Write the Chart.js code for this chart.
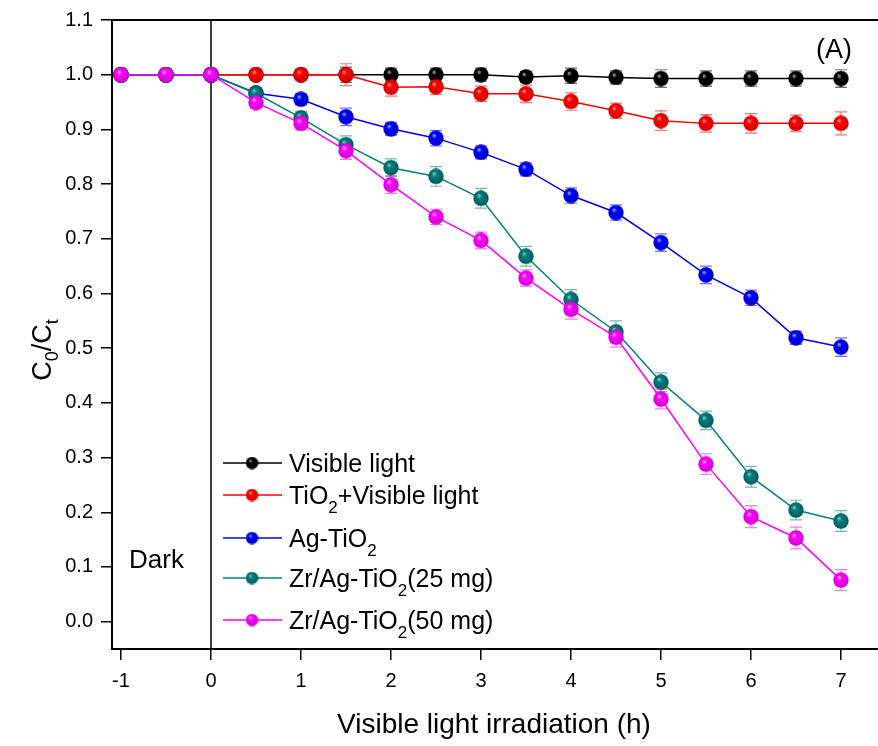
<!DOCTYPE html>
<html>
<head>
<meta charset="utf-8">
<script src="https://cdn.jsdelivr.net/npm/chart.js@4.4.1/dist/chart.umd.min.js"></script>
<style>
  html, body { margin: 0; padding: 0; background: #fff; overflow: hidden; }
  #wrap { width: 878px; height: 746px; overflow: hidden; }
</style>
</head>
<body>
<div id="wrap"><canvas id="chart-decay" width="900" height="746"></canvas></div>
<script>
// Tempo de irradiação (h) e valores de C0/Ct
const hours = [-1, -0.5, 0, 0.5, 1, 1.5, 2, 2.5, 3, 3.5, 4, 4.5, 5, 5.5, 6, 6.5, 7];
const xTicks = [-1, 0, 1, 2, 3, 4, 5, 6, 7];
const yTicks = [0, 0.1, 0.2, 0.3, 0.4, 0.5, 0.6, 0.7, 0.8, 0.9, 1.0, 1.1];

const seriesNames = [
  "Visible light",
  "TiO_2+Visible light",
  "Ag-TiO_2",
  "Zr/Ag-TiO_2(25 mg)",
  "Zr/Ag-TiO_2(50 mg)",
];

const visibleLight = [1, 1, 1, 1.0, 1.0, 1.0, 1.0, 1.0, 1.0, 0.996, 0.998, 0.995, 0.993, 0.993, 0.993, 0.993, 0.993];
const tio2Visible = [1, 1, 1, 1.0, 1.0, 1.0, 0.977, 0.978, 0.965, 0.965, 0.951, 0.934, 0.916, 0.911, 0.911, 0.911, 0.911];
const agTio2 = [1, 1, 1, 0.966, 0.955, 0.923, 0.901, 0.884, 0.858, 0.827, 0.779, 0.748, 0.693, 0.634, 0.592, 0.519, 0.502];
const zrAg25 = [1, 1, 1, 0.966, 0.921, 0.872, 0.830, 0.814, 0.774, 0.668, 0.589, 0.530, 0.438, 0.368, 0.265, 0.204, 0.184];
const zrAg50 = [1, 1, 1, 0.949, 0.911, 0.861, 0.799, 0.740, 0.697, 0.628, 0.571, 0.520, 0.407, 0.288, 0.192, 0.153, 0.076];

// barras de erro (±)
const errVisible = [0, 0, 0, 0.008, 0.008, 0.014, 0.012, 0.012, 0.012, 0.01, 0.014, 0.012, 0.016, 0.014, 0.014, 0.014, 0.016];
const errTio2 = [0, 0, 0, 0.006, 0.008, 0.02, 0.016, 0.014, 0.014, 0.016, 0.016, 0.014, 0.018, 0.016, 0.018, 0.015, 0.021];
const errAg = [0, 0, 0, 0.01, 0.01, 0.016, 0.012, 0.014, 0.012, 0.012, 0.014, 0.014, 0.016, 0.016, 0.014, 0.012, 0.017];
const errZr25 = [0, 0, 0, 0.01, 0.012, 0.016, 0.016, 0.018, 0.018, 0.018, 0.018, 0.02, 0.017, 0.017, 0.019, 0.018, 0.019];
const errZr50 = [0, 0, 0, 0.01, 0.012, 0.016, 0.016, 0.014, 0.015, 0.015, 0.018, 0.018, 0.018, 0.019, 0.02, 0.02, 0.019];

const FONT = '"Liberation Sans", Arial, sans-serif';

// esfera com brilho (marcador)
const sphere = (color, light, dark, d) => {
  const c = document.createElement("canvas");
  c.width = c.height = d;
  const g = c.getContext("2d");
  const r = d / 2;
  const grad = g.createRadialGradient(r * 0.72, r * 0.62, 0, r, r, r);
  grad.addColorStop(0, light);
  grad.addColorStop(0.32, color);
  grad.addColorStop(1, dark);
  g.fillStyle = grad;
  g.beginPath();
  g.arc(r, r, r - 0.3, 0, Math.PI * 2);
  g.fill();
  return c;
};

const styles = [
  { color: "#000000", light: "#b8b8b8", dark: "#000000" },
  { color: "#ff0000", light: "#ffb0b0", dark: "#d00000" },
  { color: "#0000ff", light: "#a8c8ff", dark: "#0000c8" },
  { color: "#008080", light: "#a0c8d0", dark: "#005858" },
  { color: "#ff00ff", light: "#ffd0e8", dark: "#d000d0" },
];

const values = [visibleLight, tio2Visible, agTio2, zrAg25, zrAg50];
const errors = [errVisible, errTio2, errAg, errZr25, errZr50];

const datasets = values.map((vals, idx) => ({
  label: seriesNames[idx],
  data: hours.map((h, i) => ({ x: h, y: vals[i] })),
  errors: errors[idx],
  borderColor: styles[idx].color,
  backgroundColor: styles[idx].color,
  borderWidth: 1.5,
  pointStyle: sphere(styles[idx].color, styles[idx].light, styles[idx].dark, 16),
  pointRadius: 8,
  tension: 0,
  order: 5 - idx, // o último fica por cima
}));

// texto com subscrito: "TiO_2" -> TiO + 2 subscrito
const drawRich = (ctx, str, x, y, size, subSize, drop) => {
  const parts = str.split("_");
  ctx.textBaseline = "alphabetic";
  ctx.textAlign = "left";
  let cx = x;
  parts.forEach((p, i) => {
    if (i > 0) {
      ctx.font = `${subSize}px ${FONT}`;
      ctx.fillText(p[0], cx, y + drop);
      cx += ctx.measureText(p[0]).width;
      p = p.slice(1);
    }
    ctx.font = `${size}px ${FONT}`;
    ctx.fillText(p, cx, y);
    cx += ctx.measureText(p).width;
  });
  return cx - x;
};

const errorBars = {
  id: "errorBars",
  beforeDatasetsDraw(chart) {
    const { ctx, scales } = chart;
    const { x, y } = scales;
    ctx.save();
    // linha vertical em t = 0 (Dark)
    const x0 = x.getPixelForValue(0);
    ctx.strokeStyle = "#000";
    ctx.lineWidth = 1.5;
    ctx.beginPath();
    ctx.moveTo(x0, chart.chartArea.top);
    ctx.lineTo(x0, chart.chartArea.bottom);
    ctx.stroke();

    chart.data.datasets.forEach((ds) => {
      ctx.strokeStyle = ds.borderColor;
      ctx.globalAlpha = 0.55;
      ctx.lineWidth = 1.2;
      ds.data.forEach((p, i) => {
        const e = ds.errors[i];
        if (!e) return;
        const px = x.getPixelForValue(p.x);
        const top = y.getPixelForValue(p.y + e);
        const bot = y.getPixelForValue(p.y - e);
        ctx.beginPath();
        ctx.moveTo(px, top);
        ctx.lineTo(px, bot);
        ctx.moveTo(px - 6, top);
        ctx.lineTo(px + 6, top);
        ctx.moveTo(px - 6, bot);
        ctx.lineTo(px + 6, bot);
        ctx.stroke();
      });
    });
    ctx.restore();
  },
};

const decorations = {
  id: "decorations",
  afterDraw(chart) {
    const { ctx, chartArea } = chart;
    ctx.save();
    // moldura (topo)
    ctx.strokeStyle = "#000";
    ctx.lineWidth = 2;
    ctx.beginPath();
    ctx.moveTo(chartArea.left, chartArea.top);
    ctx.lineTo(chartArea.right + 20, chartArea.top);
    ctx.stroke();

    ctx.fillStyle = "#000";
    // legenda
    const rowsY = [463, 495, 538, 578, 620];
    seriesNames.forEach((name, i) => {
      const yy = rowsY[i];
      ctx.strokeStyle = styles[i].color;
      ctx.lineWidth = 1.5;
      ctx.beginPath();
      ctx.moveTo(223, yy);
      ctx.lineTo(282, yy);
      ctx.stroke();
      const img = sphere(styles[i].color, styles[i].light, styles[i].dark, 13);
      ctx.drawImage(img, 252 - 6.5, yy - 6.5);
      ctx.fillStyle = "#000";
      drawRich(ctx, name, 289, yy + 9, 25, 17, 9);
    });

    // textos
    ctx.font = `26px ${FONT}`;
    ctx.textAlign = "left";
    ctx.textBaseline = "alphabetic";
    ctx.fillText("Dark", 129, 568);
    ctx.font = `27px ${FONT}`;
    ctx.fillText("(A)", 816, 58);

    ctx.font = `28px ${FONT}`;
    ctx.textAlign = "center";
    ctx.fillText("Visible light irradiation (h)", 494, 733);

    // título do eixo y: C0/Ct
    ctx.translate(51, 350);
    ctx.rotate(-Math.PI / 2);
    const parts = [["C", 0], ["0", 1], ["/C", 0], ["t", 1]];
    let w = 0;
    parts.forEach(([t, s]) => {
      ctx.font = `${s ? 18 : 27}px ${FONT}`;
      w += ctx.measureText(t).width;
    });
    let cx = -w / 2;
    ctx.textAlign = "left";
    parts.forEach(([t, s]) => {
      ctx.font = `${s ? 18 : 27}px ${FONT}`;
      ctx.fillText(t, cx, s ? 7 : 0);
      cx += ctx.measureText(t).width;
    });
    ctx.restore();
  },
};

Chart.defaults.font.family = FONT;
Chart.defaults.color = "#000";

const ctx = document.getElementById("chart-decay").getContext("2d");
new Chart(ctx, {
  type: "line",
  data: { datasets },
  options: {
    responsive: false,
    animation: false,
    layout: { padding: { top: 19, right: 14, left: 0, bottom: 0 } },
    plugins: {
      legend: { display: false },
      tooltip: { enabled: false },
    },
    scales: {
      x: {
        type: "linear",
        min: -1.1,
        max: 7.5,
        afterBuildTicks: (scale) => {
          scale.ticks = xTicks.map((v) => ({ value: v }));
        },
        afterFit: (scale) => {
          scale.height = 97;
        },
        ticks: {
          font: { size: 20 },
          color: "#000",
          padding: 9,
          maxRotation: 0,
          callback: (v) => String(v),
        },
        grid: {
          drawOnChartArea: false,
          drawTicks: true,
          tickLength: 11,
          color: "#000",
          lineWidth: 1.5,
        },
        border: { color: "#000", width: 2 },
      },
      y: {
        type: "linear",
        min: -0.05,
        max: 1.1,
        afterBuildTicks: (scale) => {
          scale.ticks = yTicks.map((v) => ({ value: v }));
        },
        afterFit: (scale) => {
          scale.width = 112;
        },
        ticks: {
          font: { size: 20 },
          color: "#000",
          padding: 8,
          callback: (v) => v.toFixed(1),
        },
        grid: {
          drawOnChartArea: false,
          drawTicks: true,
          tickLength: 11,
          color: "#000",
          lineWidth: 1.5,
        },
        border: { color: "#000", width: 2 },
      },
    },
  },
  plugins: [errorBars, decorations],
});
</script>
</body>
</html>
